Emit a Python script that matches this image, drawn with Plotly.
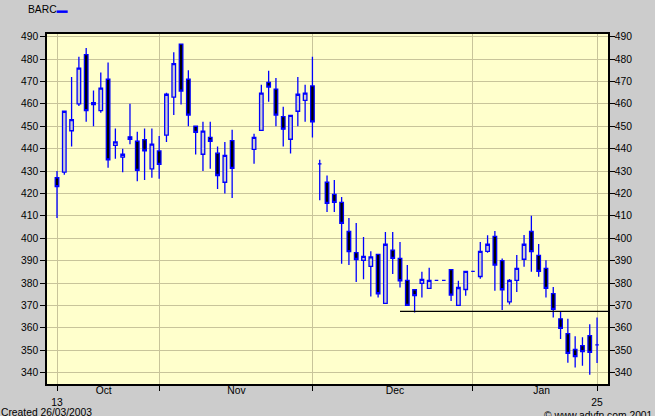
import plotly.graph_objects as go

# trading-day slots (two days missing after slot 24)
slot = list(range(0, 25)) + list(range(27, 75))

open_ = [427, 429.5, 448, 460, 482, 460.5, 457, 471, 441.5, 436.2,
         445.3, 443.3, 444, 431, 439, 446, 463, 486.7, 471, 450,
         437.5, 445, 438, 425, 443.6,
         439.7, 448.2, 469.6, 466.6, 454.3, 444.2, 456.7, 461.6, 468, 433.2,
         425, 419.6, 416, 403, 393.6, 390.1, 387.4, 392.8, 370.9, 394.7,
         391, 381.2, 377, 379.8, 377.6, 381.2, 381.2, 386, 370, 377.1,
         385.2, 382.9, 394.1, 400.8, 390, 371.6, 381.2, 390.6, 403, 392.3,
         386.5, 375.3, 364, 357.4, 350.3, 352, 356.5, 352.4]
high = [430, 457, 472, 481, 485, 466, 474, 478.5, 449, 440,
        460, 447.5, 449, 449, 445.7, 465, 483, 487, 475, 450,
        452, 452, 441, 443, 448.4,
        446.6, 468.5, 474.8, 471.6, 458.7, 455, 472, 468.5, 481, 435,
        428, 426, 418.4, 409, 406.8, 400.5, 394.2, 393, 402.8, 402.8,
        398.3, 388, 377.2, 385, 386.8, 381.2, 381.2, 386, 381, 385.2,
        385.2, 398.3, 401.3, 403.2, 391, 381.8, 392.5, 401.4, 410, 397.4,
        390.2, 378.2, 367, 364, 356.2, 355.8, 361.6, 364.6]
low = [409, 428.4, 441, 459, 452, 450, 456, 431.5, 435.5, 429.5,
       442, 425.4, 426, 427, 426.6, 443, 455, 459.7, 450, 437.4,
       430, 431, 422, 420, 418,
       433.3, 448, 461, 450, 441, 437.8, 450, 452, 445, 417,
       411.7, 411.7, 388.6, 388, 380.5, 381.7, 374, 373.5, 370.9, 384,
       378, 370, 366.8, 373.5, 377.6, 381.2, 381.2, 372, 370, 374.3,
       385.2, 381.9, 393.5, 376.5, 368, 370.4, 376, 387.3, 385, 382.8,
       373.5, 364.6, 355, 344.4, 342.3, 343, 339, 344.3]
close = [423, 456.7, 453, 476, 457, 459.7, 467, 435, 443, 437.5,
         444.1, 430.3, 439, 442, 433, 464.3, 478, 465.7, 455, 447.3,
         447.8, 443.3, 428, 437, 431.2,
         445, 464.8, 467.5, 455, 448.7, 454.9, 464.3, 464.8, 452, 433.2,
         415.6, 416, 406.6, 394, 390.5, 391.9, 391.7, 375.2, 397.3, 391,
         381, 370, 374.4, 381.6, 381.2, 381.2, 381.2, 374.6, 378, 385.2,
         385.2, 394.1, 397.3, 388, 377, 381.2, 386.5, 397.3, 394, 385.2,
         377.6, 368.2, 359.7, 348.6, 347.1, 349.4, 349, 352.4]

# support line
support_x = [47, 75.5]
support_y = [367.3, 367.3]

tick_slots = [0, 14, 35, 57, 74]
tick_text = ["13", "", "", "", "25"]
month_slots = [6.4, 24.6, 46.3, 66.4]
month_names = ["Oct", "Nov", "Dec", "Jan"]
price_ticks = list(range(340, 500, 10))

x_range = [-1.37, 75.5]
y_range = [334.9, 491.2]

blue = "#0000ff"
grid = "#c8c49a"
font = dict(family="Liberation Sans, Arial", size=10.3, color="black")

fig = go.Figure()
fig.add_trace(go.Candlestick(
    x=slot, open=open_, high=high, low=low, close=close,
    increasing=dict(fillcolor="#cfcfcf", line=dict(color=blue, width=1.3)),
    decreasing=dict(fillcolor="black", line=dict(color=blue, width=1.3)),
    whiskerwidth=0, showlegend=False, hoverinfo="skip"))
fig.add_trace(go.Scatter(x=support_x, y=support_y, mode="lines",
                         line=dict(color="black", width=1.2),
                         showlegend=False, hoverinfo="skip"))
# dummy trace so the extra axes are drawn
fig.add_trace(go.Scatter(x=[None], y=[None], xaxis="x2", yaxis="y2",
                         showlegend=False))

fig.update_layout(
    width=655, height=416,
    margin=dict(l=47, r=47, t=34, b=32, pad=0),
    paper_bgcolor="#cccccc", plot_bgcolor="#ffffcc",
    font=font,
    xaxis=dict(range=x_range, tickvals=tick_slots, ticktext=tick_text,
               ticks="outside", ticklen=5, tickcolor="black",
               ticklabelstandoff=3, automargin=False,
               showgrid=True, gridcolor=grid, gridwidth=1,
               showline=True, linecolor="black", linewidth=1.5, mirror=True,
               zeroline=False, rangeslider=dict(visible=False), fixedrange=True),
    xaxis2=dict(range=x_range, overlaying="x", side="bottom",
                tickvals=month_slots, ticktext=month_names, automargin=False,
                ticks="", showgrid=False, showline=False, zeroline=False,
                ticklabelstandoff=-1, fixedrange=True),
    yaxis=dict(range=y_range, tickvals=price_ticks, automargin=False,
               ticks="outside", ticklen=5, tickcolor="black",
               showgrid=True, gridcolor=grid, gridwidth=1,
               showline=True, linecolor="black", linewidth=1.5, mirror=True,
               zeroline=False, fixedrange=True),
    yaxis2=dict(range=y_range, overlaying="y", side="right", matches="y",
                tickvals=price_ticks, ticks="outside", ticklen=5,
                automargin=False, ticklabelstandoff=-2,
                tickcolor="black", showgrid=False, showline=True,
                linecolor="black", linewidth=1.5, zeroline=False,
                fixedrange=True),
    annotations=[
        dict(text="BARC", xref="paper", yref="paper", x=-0.037, y=1.0696,
             xanchor="left", yanchor="middle", showarrow=False, font=font),
        dict(text="Created 26/03/2003", xref="paper", yref="paper",
             x=-0.086, y=-0.080, xanchor="left", yanchor="middle",
             showarrow=False, font=font),
        dict(text="© www.advfn.com 2001", xref="paper", yref="paper",
             x=1.083, y=-0.089, xanchor="right", yanchor="middle",
             showarrow=False, font=font),
    ],
    shapes=[dict(type="line", xref="paper", yref="paper",
                 x0=0.0173, x1=0.0369, y0=1.0638, y1=1.0638,
                 line=dict(color=blue, width=2.5))],
)

# drop the default page margin so the chart sits at the window corner
fig.write_html("out.html", config={"displayModeBar": False},
               post_script="document.body.style.margin='0';")
